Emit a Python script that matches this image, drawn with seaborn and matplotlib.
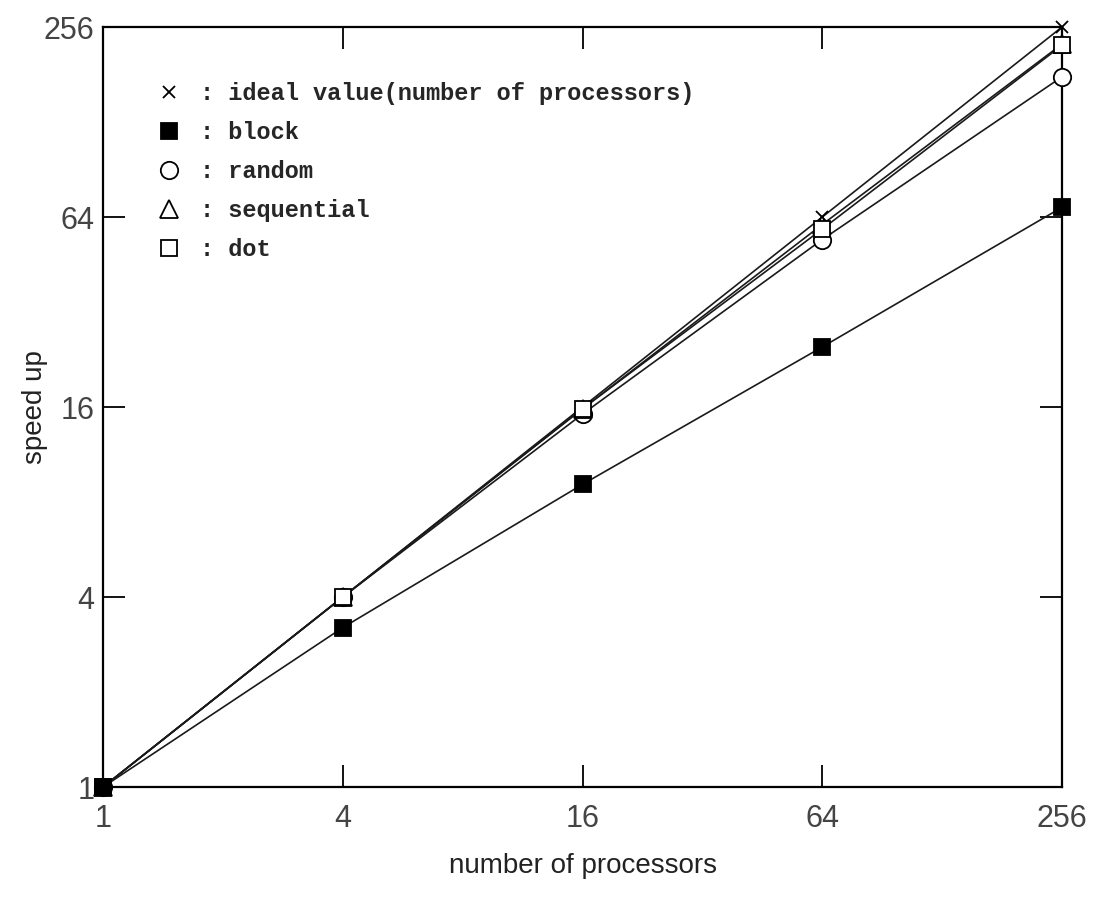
import matplotlib
matplotlib.use("Agg")
import matplotlib.pyplot as plt
from matplotlib.lines import Line2D
import seaborn as sns

# values
processors = [1, 4, 16, 64, 256]
ideal = [1, 4, 16, 64, 256]
block = [1, 3.2, 9.1, 24.8, 68.7]
random_ = [1, 4.0, 15.2, 54.3, 178]
sequential = [1, 4.0, 15.8, 60.6, 226]
dot = [1, 4.0, 15.8, 58.6, 224]
tick_labels = ["1", "4", "16", "64", "256"]

series = [
    (": ideal value(number of processors)", ideal, "x", "black", 8),
    (": block", block, "s", "black", 11.5),
    (": random", random_, "o", "white", 12.5),
    (": sequential", sequential, "^", "white", 12.5),
    (": dot", dot, "s", "white", 12),
]

sns.set_theme(style="white")
plt.rcParams["font.family"] = ["Liberation Sans", "DejaVu Sans"]

fig = plt.figure(figsize=(11.02, 9.01), dpi=100)
ax = fig.add_axes([0.0935, 0.1265, 0.8702, 0.8435])

# block drawn last so its filled square sits on top at (1, 1)
draw_order = [0, 2, 3, 4, 1]
for i in draw_order:
    label, vals, mk, face, ms = series[i]
    sns.lineplot(x=processors, y=vals, ax=ax, color="#1a1a1a", linewidth=1.2,
                 marker=mk, markersize=ms, markerfacecolor=face,
                 markeredgecolor="black", markeredgewidth=1.3,
                 legend=False, zorder=3, clip_on=False)

ax.set_xscale("log", base=2)
ax.set_yscale("log", base=2)
ax.set_xlim(1, 256)
ax.set_ylim(1, 256)
ax.set_xticks(processors)
ax.set_xticklabels(tick_labels)
ax.set_yticks(processors)
ax.set_yticklabels(tick_labels)
ax.minorticks_off()
ax.tick_params(axis="both", which="major", direction="in", length=16, width=1.3,
               color="black", labelsize=22, labelcolor="#444444",
               top=True, right=True, bottom=True, left=True)
ax.tick_params(axis="x", pad=12)
ax.tick_params(axis="y", pad=6)

for sp in ax.spines.values():
    sp.set_color("black")
    sp.set_linewidth(1.6)
    sp.set_visible(True)

ax.set_xlabel("number of processors", fontsize=20, color="#222222", labelpad=14)
ax.set_ylabel("speed up", fontsize=20, color="#222222", labelpad=-3)

handles = [Line2D([], [], linestyle="none", marker=mk, markersize=ms,
                  markerfacecolor=face, markeredgecolor="black",
                  markeredgewidth=1.3)
           for _, _, mk, face, ms in series]
labels = [s[0] for s in series]
leg = ax.legend(handles, labels, loc="upper left", bbox_to_anchor=(0.049, 0.94),
                frameon=False, handlelength=0.8, handletextpad=0.9,
                labelspacing=0.68, borderaxespad=0,
                prop={"family": "Liberation Mono", "weight": "bold", "size": 17})

fig.savefig("out.png", dpi=100)
